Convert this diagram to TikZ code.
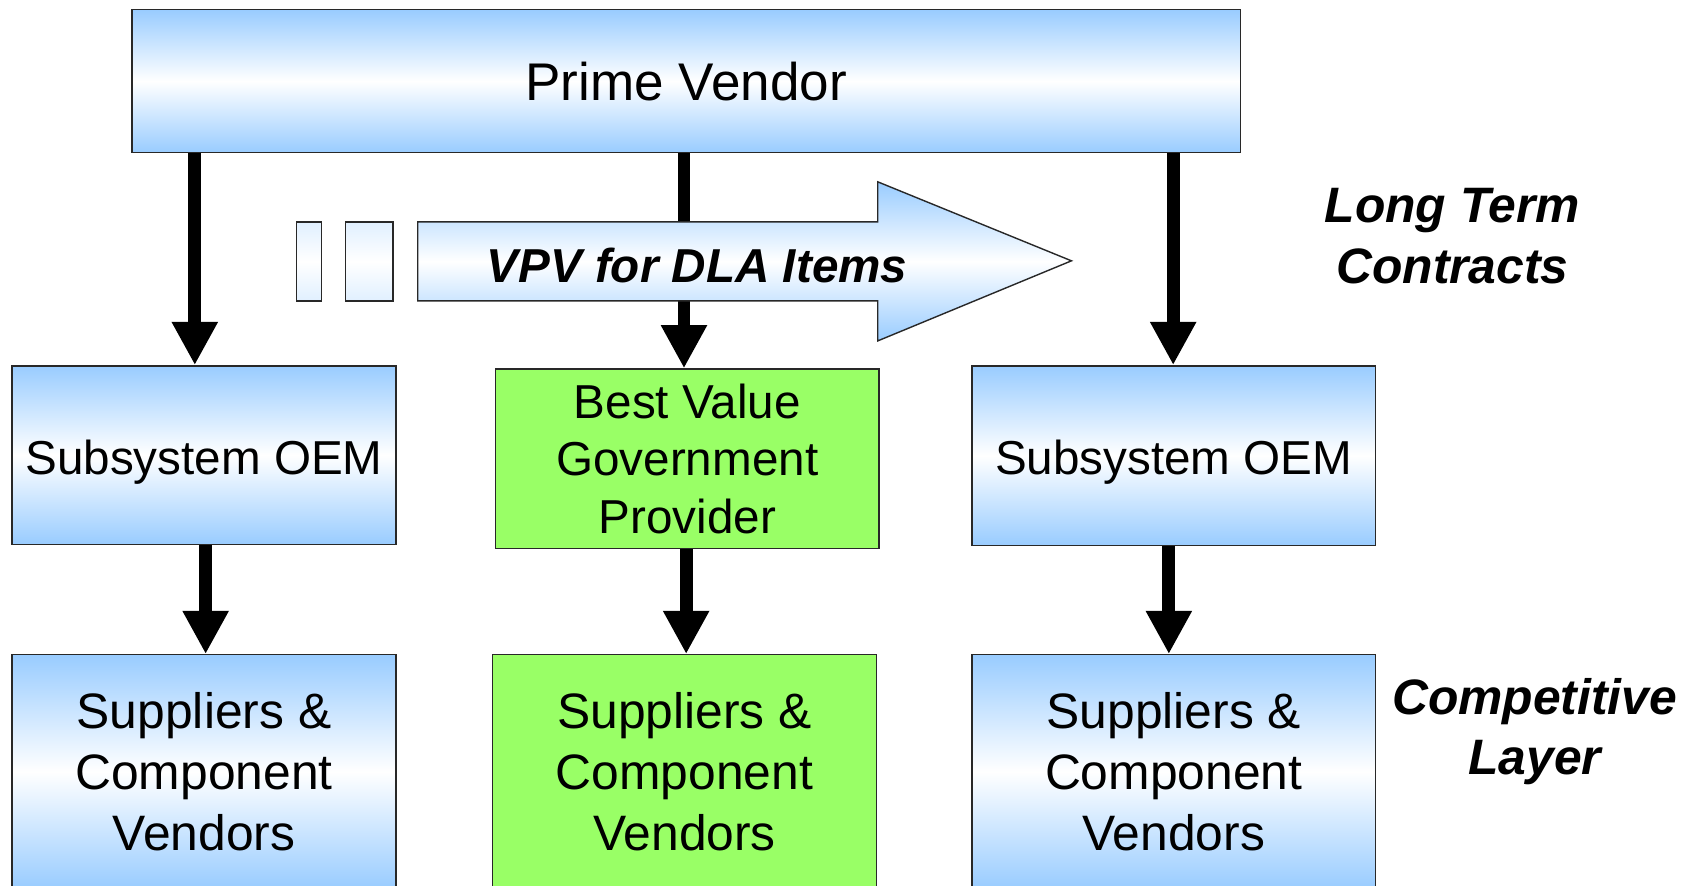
\documentclass[tikz,border=0pt]{standalone}
\usepackage{fontspec}
\setmainfont{Liberation Sans}
\usetikzlibrary{arrows.meta}

\definecolor{boxblue}{RGB}{153,204,255}
\definecolor{boxgreen}{RGB}{153,255,102}
\definecolor{edgegray}{RGB}{40,40,40}

\tikzset{
  bluebox/.style={draw=edgegray, line width=1.3pt, rectangle, inner sep=0pt,
    top color=boxblue, bottom color=boxblue, middle color=white, align=center},
  greenbox/.style={draw=edgegray, line width=1.3pt, rectangle, inner sep=0pt,
    fill=boxgreen, align=center},
  paleblock/.style={draw=edgegray, line width=1.3pt,
    top color=boxblue!30, bottom color=boxblue!30, middle color=white},
  flow/.style={line width=12pt, -{Triangle[length=40pt,width=40pt]}},
  note/.style={font=\fontsize{46}{56}\selectfont\bfseries\itshape, align=center, inner sep=0pt},
}

\begin{document}
\begin{tikzpicture}[x=1pt, y=-1pt]
  \clip (0,0) rectangle (1568,818);

  % top level
  \node[bluebox, minimum width=1024pt, minimum height=132pt,
        font=\fontsize{49}{59}\selectfont] (pv) at (634,75) {Prime Vendor};

  % middle layer
  \node[bluebox, minimum width=355pt, minimum height=165pt,
        text height=44pt, text depth=9pt,
        font=\fontsize{44}{53}\selectfont] (subl) at (188.5,420.5) {Subsystem OEM};
  \node[greenbox, minimum width=354pt, minimum height=166pt,
        font=\fontsize{44}{53}\selectfont] (bv) at (635,424) {Best Value\\Government\\Provider};
  \node[bluebox, minimum width=373pt, minimum height=166pt,
        text height=44pt, text depth=9pt,
        font=\fontsize{44}{53}\selectfont] (subr) at (1084.5,421) {Subsystem OEM};

  % bottom layer
  \node[bluebox, minimum width=355pt, minimum height=216pt,
        font=\fontsize{46}{56}\selectfont] (supl) at (188.5,713) {Suppliers \&\\Component\\Vendors};
  \node[greenbox, minimum width=355pt, minimum height=216pt,
        font=\fontsize{46}{56}\selectfont] (supm) at (632.5,713) {Suppliers \&\\Component\\Vendors};
  \node[bluebox, minimum width=373pt, minimum height=216pt,
        font=\fontsize{46}{56}\selectfont] (supr) at (1084.5,713) {Suppliers \&\\Component\\Vendors};

  % side labels
  \node[note] (ltc) at (1342,218) {Long Term\\Contracts};
  \node[note] (cl) at (1418,676) {Competitive\\Layer};

  % connector columns
  \coordinate (c1) at (180,0);
  \coordinate (c2) at (632,0);
  \coordinate (c3) at (1084,0);
  \coordinate (d1) at (190,0);
  \coordinate (d2) at (634,0);
  \coordinate (d3) at (1080,0);

  \draw[flow] (pv.south -| c1) -- (subl.north -| c1);
  \draw[flow] (pv.south -| c2) -- (bv.north -| c2);
  \draw[flow] (pv.south -| c3) -- (subr.north -| c3);

  \draw[flow] (subl.south -| d1) -- (supl.north -| d1);
  \draw[flow] (bv.south -| d2) -- (supm.north -| d2);
  \draw[flow] (subr.south -| d3) -- (supr.north -| d3);

  % block arrow with trailing blocks
  \draw[paleblock] (274,205) rectangle (297,278);
  \draw[paleblock] (319,205) rectangle (363,278);
  \draw[draw=edgegray, line width=1.3pt, top color=boxblue, bottom color=boxblue, middle color=white]
    (386,205) -- (811,205) -- (811,168) -- (990,241) -- (811,315) -- (811,278) -- (386,278) -- cycle;
  \node[font=\fontsize{44}{53}\selectfont\bfseries\itshape, inner sep=0pt] (vpv) at (644,245) {VPV for DLA Items};
\end{tikzpicture}
\end{document}
